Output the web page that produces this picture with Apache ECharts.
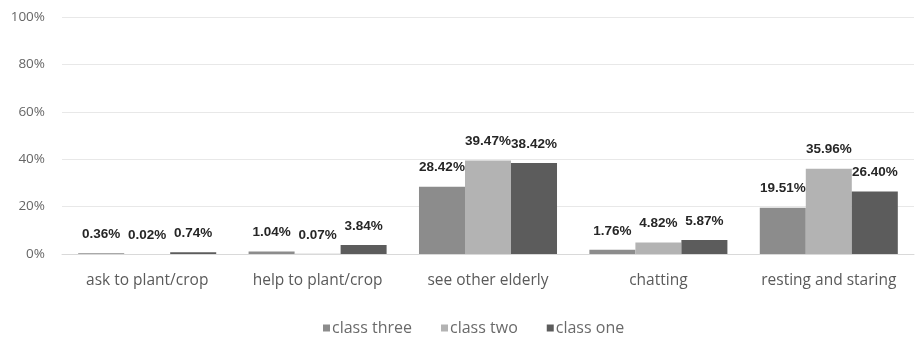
<!DOCTYPE html>
<html>
<head>
<meta charset="utf-8">
<script src="https://cdn.jsdelivr.net/npm/echarts@6/dist/echarts.min.js"></script>
<style>
  html, body { margin: 0; padding: 0; background: #ffffff; }
  #chart { width: 919px; height: 341px; }
</style>
</head>
<body>
<div id="chart"></div>
<script>
// Activity categories and percentage shares per class
const categories = ['ask to plant/crop', 'help to plant/crop', 'see other elderly', 'chatting', 'resting and staring'];
const classThree = [0.36, 1.04, 28.42, 1.76, 19.51];
const classTwo   = [0.02, 0.07, 39.47, 4.82, 35.96];
const classOne   = [0.74, 3.84, 38.42, 5.87, 26.40];
const yTicks = [0, 20, 40, 60, 80, 100];

const labelStyle = {
  show: true,
  position: 'top',
  distance: 12,
  fontFamily: 'Liberation Sans, Arial, sans-serif',
  fontWeight: 'bold',
  fontSize: 13.5,
  color: '#262626',
  formatter: p => p.value.toFixed(2) + '%'
};

function barSeries(name, data, color) {
  return {
    name: name,
    type: 'bar',
    data: data,
    barGap: '0%',
    barCategoryGap: '19%',
    itemStyle: { color: color },
    label: labelStyle,
    labelLayout: { hideOverlap: false }
  };
}

const chart = echarts.init(document.getElementById('chart'), null, { renderer: 'canvas' });
chart.setOption({
  animation: false,
  grid: { left: 62, right: 5, top: 17, bottom: 87 },
  legend: {
    bottom: 0,
    left: 318,
    itemWidth: 7,
    itemHeight: 7,
    itemGap: 29,
    icon: 'rect',
    textStyle: { fontFamily: 'Open Sans, sans-serif', fontSize: 16, color: '#6a6a6a', padding: [0, 0, 0, -3] },
    data: ['class three', 'class two', 'class one']
  },
  xAxis: {
    type: 'category',
    data: categories,
    axisLine: { show: true, lineStyle: { color: '#d9d9d9' } },
    axisTick: { show: false },
    axisLabel: { interval: 0, fontFamily: 'Open Sans, sans-serif', fontSize: 15.5, color: '#5a5a5a', margin: 19 }
  },
  yAxis: {
    type: 'value',
    min: yTicks[0],
    max: yTicks[yTicks.length - 1],
    interval: 20,
    axisLine: { show: false },
    axisTick: { show: false },
    splitLine: { lineStyle: { color: '#e8e8e8' } },
    axisLabel: { fontFamily: 'Open Sans, sans-serif', fontSize: 13.5, color: '#666666', margin: 17, formatter: '{value}%' }
  },
  series: [
    barSeries('class three', classThree, '#8c8c8c'),
    barSeries('class two', classTwo, '#b3b3b3'),
    barSeries('class one', classOne, '#5c5c5c')
  ]
});
</script>
</body>
</html>
